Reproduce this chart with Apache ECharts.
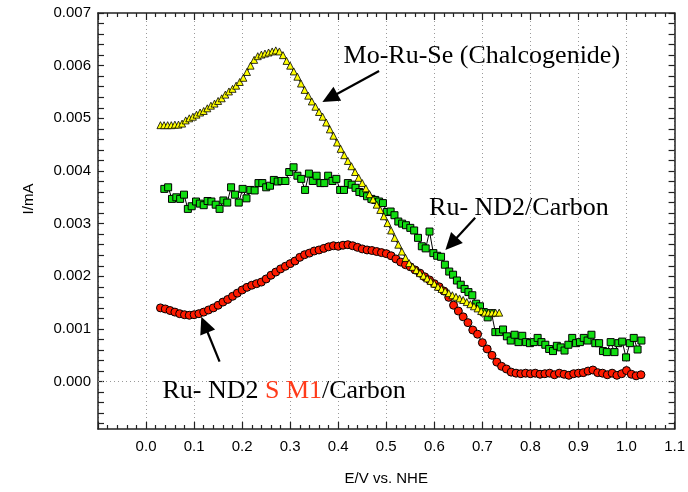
<!DOCTYPE html>
<html><head><meta charset="utf-8">
<script src="https://cdn.jsdelivr.net/npm/echarts@6/dist/echarts.min.js"></script>
<style>html,body{margin:0;padding:0;background:#fff}#c{width:688px;height:492px}</style>
</head><body><div id="c"></div>
<script>
// ---- data ----
const yellowX = [0.030,0.0375,0.045,0.0525,0.060,0.0675,0.075,0.0825,0.090,0.0975,
0.105,0.1125,0.120,0.1275,0.135,0.1425,0.150,0.1575,0.165,0.1725,
0.180,0.1875,0.195,0.2025,0.210,0.2175,0.225,0.2325,0.240,0.2475,
0.255,0.2625,0.270,0.2775,0.285,0.2925,0.300,0.3075,0.315,0.3225,
0.330,0.3375,0.345,0.3525,0.360,0.3675,0.375,0.3825,0.390,0.3975,
0.405,0.4125,0.420,0.4275,0.435,0.4425,0.450,0.4575,0.465,0.4725,
0.480,0.4875,0.495,0.5025,0.510,0.5175,0.525,0.5325,0.540,0.5475,
0.555,0.5625,0.570,0.5775,0.585,0.5925,0.600,0.6075,0.615,0.6225,
0.630,0.6375,0.645,0.6525,0.660,0.6675,0.675,0.6825,0.690,0.6975,
0.705,0.7125,0.720,0.7275,0.735];
const yellowY = [0.00487,0.00487,0.00487,0.00487,0.00488,0.00488,0.00490,0.00496,0.00500,0.00503,
0.00507,0.00511,0.00514,0.00519,0.00524,0.00528,0.00533,0.00538,0.00545,0.00551,
0.00556,0.00562,0.00569,0.00577,0.00588,0.00600,0.00611,0.00618,0.00621,0.00623,
0.00625,0.00627,0.00629,0.00627,0.00620,0.00609,0.00600,0.00589,0.00579,0.00566,
0.00554,0.00543,0.00532,0.00522,0.00512,0.00503,0.00492,0.00479,0.00467,0.00454,
0.00442,0.00430,0.00419,0.00409,0.00398,0.00387,0.00377,0.00367,0.00356,0.00346,
0.00336,0.00326,0.00314,0.00301,0.00287,0.00273,0.00260,0.00247,0.00235,0.00225,
0.00218,0.00212,0.00206,0.00201,0.00196,0.00191,0.00186,0.00180,0.00176,0.00172,
0.00168,0.00164,0.00161,0.00158,0.00155,0.00151,0.00147,0.00143,0.00139,0.00134,
0.00131,0.00131,0.00131,0.00131,0.00131];

const redX = [0.03,0.04,0.05,0.06,0.07,0.08,0.09,0.10,0.11,0.12,
0.13,0.14,0.15,0.16,0.17,0.18,0.19,0.20,0.21,0.22,
0.23,0.24,0.25,0.26,0.27,0.28,0.29,0.30,0.31,0.32,
0.33,0.34,0.35,0.36,0.37,0.38,0.39,0.40,0.41,0.42,
0.43,0.44,0.45,0.46,0.47,0.48,0.49,0.50,0.51,0.52,
0.53,0.54,0.55,0.56,0.57,0.58,0.59,0.60,0.61,0.62,
0.63,0.64,0.65,0.66,0.67,0.68,0.69,0.70,0.71,0.72,
0.73,0.74,0.75,0.76,0.77,0.78,0.79,0.80,0.81,0.82,
0.83,0.84,0.85,0.86,0.87,0.88,0.89,0.90,0.91,0.92,
0.93,0.94,0.95,0.96,0.97,0.98,0.99,1.00,1.01,1.02,1.03];
const redY = [0.00140,0.00138,0.00135,0.00132,0.00129,0.00127,0.00126,0.00127,0.00129,0.00132,
0.00136,0.00140,0.00145,0.00151,0.00156,0.00162,0.00168,0.00174,0.00179,0.00183,
0.00186,0.00189,0.00195,0.00202,0.00208,0.00214,0.00219,0.00224,0.00229,0.00236,
0.00241,0.00244,0.00248,0.00250,0.00253,0.00256,0.00258,0.00257,0.00259,0.00260,
0.00258,0.00255,0.00252,0.00250,0.00249,0.00247,0.00245,0.00243,0.00239,0.00233,
0.00227,0.00222,0.00218,0.00212,0.00206,0.00199,0.00193,0.00186,0.00180,0.00172,
0.00160,0.00145,0.00134,0.00123,0.00112,0.00098,0.00090,0.00074,0.00062,0.00050,
0.00037,0.00029,0.00024,0.00018,0.00016,0.00015,0.00016,0.00015,0.00016,0.00014,
0.00015,0.00016,0.00013,0.00016,0.00014,0.00012,0.00015,0.00016,0.00017,0.00020,
0.00022,0.00017,0.00016,0.00013,0.00016,0.00012,0.00015,0.00021,0.00014,0.00011,0.00013];

const greenX = [0.038,0.046,0.054,0.063,0.071,0.079,0.087,0.095,0.104,0.112,
0.120,0.128,0.136,0.145,0.153,0.161,0.169,0.177,0.185,0.193,
0.201,0.209,0.217,0.226,0.234,0.242,0.250,0.258,0.266,0.274,
0.282,0.290,0.298,0.307,0.315,0.323,0.331,0.339,0.347,0.355,
0.363,0.371,0.379,0.388,0.396,0.404,0.412,0.420,0.428,0.436,
0.444,0.452,0.460,0.469,0.477,0.485,0.493,0.501,0.509,0.517,
0.525,0.533,0.541,0.550,0.558,0.566,0.574,0.582,0.590,0.598,
0.606,0.614,0.622,0.631,0.639,0.647,0.655,0.663,0.671,0.679,
0.687,0.695,0.703,0.711,0.719,0.727,0.735,0.743,0.751,0.759,
0.767,0.775,0.783,0.791,0.799,0.807,0.815,0.823,0.831,0.839,
0.847,0.855,0.863,0.871,0.879,0.887,0.895,0.903,0.911,0.919,
0.927,0.935,0.943,0.951,0.959,0.967,0.975,0.983,0.991,0.999,
1.007,1.015,1.023,1.031];
const greenY = [0.00366,0.00369,0.00347,0.00350,0.00347,0.00355,0.00328,0.00333,0.00342,0.00338,
0.00335,0.00343,0.00342,0.00336,0.00328,0.00344,0.00340,0.00369,0.00355,0.00340,
0.00366,0.00348,0.00364,0.00363,0.00377,0.00377,0.00369,0.00372,0.00383,0.00380,
0.00381,0.00381,0.00398,0.00407,0.00391,0.00385,0.00364,0.00395,0.00381,0.00391,
0.00377,0.00377,0.00391,0.00381,0.00385,0.00364,0.00364,0.00377,0.00374,0.00368,
0.00360,0.00358,0.00352,0.00347,0.00345,0.00342,0.00339,0.00322,0.00323,0.00316,
0.00304,0.00300,0.00297,0.00292,0.00287,0.00273,0.00257,0.00253,0.00285,0.00244,
0.00239,0.00237,0.00222,0.00209,0.00203,0.00192,0.00184,0.00176,0.00170,0.00164,
0.00148,0.00143,0.00132,0.00122,0.00130,0.00094,0.00094,0.00099,0.00086,0.00078,
0.00089,0.00075,0.00087,0.00075,0.00073,0.00075,0.00083,0.00075,0.00070,0.00062,
0.00058,0.00068,0.00065,0.00059,0.00070,0.00083,0.00073,0.00075,0.00083,0.00078,
0.00089,0.00073,0.00073,0.00058,0.00056,0.00075,0.00056,0.00073,0.00076,0.00046,
0.00073,0.00083,0.00061,0.00078];

const yLabelValues = [0,0.001,0.002,0.003,0.004,0.005,0.006,0.007];
const yGridValues = [0,0.001,0.002,0.003,0.004,0.005,0.006];
const yMinorTicks = [-0.0008,-0.0006,-0.0004,-0.0002,0,0.0002,0.0004,0.0006,0.0008,0.001,0.0012,0.0014,0.0016,0.0018,0.002,
0.0022,0.0024,0.0026,0.0028,0.003,0.0032,0.0034,0.0036,0.0038,0.004,0.0042,0.0044,0.0046,0.0048,0.005,
0.0052,0.0054,0.0056,0.0058,0.006,0.0062,0.0064,0.0066,0.0068,0.007];

// annotation anchors (data coords)
const annoText = [
  {pos:[0.411,0.00618], parts:[['a','Mo-Ru-Se (Chalcogenide)']]},
  {pos:[0.589,0.00330], parts:[['a','Ru- ND2/Carbon']]},
  {pos:[0.034,-0.000178], parts:[['a','Ru- ND2 '],['r','S M1'],['a','/Carbon']]}
];
const annoArrows = [
  [[0.485,0.00590],[0.367,0.00531]],
  [[0.685,0.00311],[0.623,0.00250]],
  [[0.153,0.00038],[0.115,0.00123]]
];

function zip(xs, ys){ return xs.map((x,i)=>[x, ys[i]]); }

const chart = echarts.init(document.getElementById('c'), null, {renderer:'canvas'});
const axisColor = '#222';
const sansFont = 'Liberation Sans, Arial, sans-serif';
const xBase = {
  type:'value', min:-0.1, max:1.1, interval:0.1,
  axisLine:{show:true, onZero:false, lineStyle:{color:axisColor, width:1.5}},
  axisTick:{show:true, inside:true, length:7, lineStyle:{color:axisColor, width:1.2}},
  minorTick:{show:true, splitNumber:5, length:4, lineStyle:{color:axisColor, width:1.2}},
};
const yBase = {
  type:'value', min:-0.0009, max:0.007,
  axisLine:{show:true, onZero:false, lineStyle:{color:axisColor, width:1.5}},
  axisTick:{show:true, inside:true, length:6, customValues:yMinorTicks, lineStyle:{color:axisColor, width:1.2}},
  splitLine:{show:false}
};

chart.setOption({
  animation:false,
  backgroundColor:'#fff',
  grid:{left:98, right:12, top:13, bottom:63, containLabel:false},
  xAxis:[
    Object.assign({}, xBase, {
      position:'bottom',
      name:'E/V vs. NHE', nameLocation:'middle', nameGap:42,
      nameTextStyle:{fontFamily:sansFont, fontSize:15, color:'#000'},
      axisLabel:{show:true, margin:10, fontFamily:sansFont, fontSize:15, color:'#000',
        formatter:v => (v < -0.05 ? '' : v.toFixed(1))},
      splitLine:{show:true, lineStyle:{color:'#9a9a9a', type:[1,3], width:1}}
    }),
    Object.assign({}, xBase, {position:'top', axisLabel:{show:false}, splitLine:{show:false}})
  ],
  yAxis:[
    Object.assign({}, yBase, {
      position:'left',
      name:'I/mA', nameLocation:'middle', nameGap:62, nameRotate:90,
      nameTextStyle:{fontFamily:sansFont, fontSize:15, color:'#000', padding:[0,0,0,44]},
      axisLabel:{show:true, margin:7, customValues:yLabelValues, fontFamily:sansFont, fontSize:15, color:'#000',
        formatter:v => v.toFixed(3)}
    }),
    Object.assign({}, yBase, {position:'right', axisLabel:{show:false}})
  ],
  series:[
    {type:'line', name:'grid', data:[[-0.05,-0.0005]], showSymbol:false, symbol:'none',
     lineStyle:{opacity:0}, z:0, silent:true,
     markLine:{silent:true, symbol:'none', label:{show:false},
       lineStyle:{color:'#9a9a9a', type:[1,3], width:1},
       data: yGridValues.map(v => ({yAxis:v}))}},
    {type:'line', name:'Ru- ND2 S M1/Carbon', data:zip(redX, redY), z:2,
     symbol:'circle', symbolSize:8, showAllSymbol:true,
     itemStyle:{color:'#ff1a00', borderColor:'#000', borderWidth:1},
     lineStyle:{color:'#000', width:1}},
    {type:'line', name:'Ru- ND2/Carbon', data:zip(greenX, greenY), z:3,
     symbol:'rect', symbolSize:7, showAllSymbol:true,
     itemStyle:{color:'#11dd11', borderColor:'#000', borderWidth:1},
     lineStyle:{color:'#000', width:1}},
    {type:'line', name:'Mo-Ru-Se', data:zip(yellowX, yellowY), z:4,
     symbol:'triangle', symbolSize:7, showAllSymbol:true,
     itemStyle:{color:'#ffff00', borderColor:'#000', borderWidth:0.8},
     lineStyle:{color:'#000', width:1}}
  ]
});

// annotations through the axes' scales
const graphics = [];
const serif = 'Liberation Serif, Times New Roman, serif';
annoText.forEach(a => {
  const p = chart.convertToPixel({gridIndex:0}, a.pos);
  const txt = a.parts.map(pt => '{' + pt[0] + '|' + pt[1] + '}').join('');
  graphics.push({type:'text', x:p[0], y:p[1], z:10,
    style:{text:txt, fontFamily:serif, fontSize:26, fill:'#000', verticalAlign:'middle', align:'left',
      rich:{a:{fontFamily:serif, fontSize:26, fill:'#000', color:'#000'},
            r:{fontFamily:serif, fontSize:26, fill:'#ff3b1a', color:'#ff3b1a'}}}});
});
annoArrows.forEach(ar => {
  const p0 = chart.convertToPixel({gridIndex:0}, ar[0]);
  const p1 = chart.convertToPixel({gridIndex:0}, ar[1]);
  const dx = p1[0]-p0[0], dy = p1[1]-p0[1];
  const L = Math.sqrt(dx*dx+dy*dy), ux = dx/L, uy = dy/L;
  const hl = 17, hw = 8;
  const bx = p1[0]-ux*hl, by = p1[1]-uy*hl;
  graphics.push({type:'line', z:10, shape:{x1:p0[0], y1:p0[1], x2:bx+ux*2, y2:by+uy*2},
    style:{stroke:'#000', lineWidth:2.2}});
  graphics.push({type:'polygon', z:10, shape:{points:[[p1[0],p1[1]],[bx-uy*hw, by+ux*hw],[bx+uy*hw, by-ux*hw]]},
    style:{fill:'#000'}});
});
chart.setOption({graphic:graphics});
</script>
</body></html>
